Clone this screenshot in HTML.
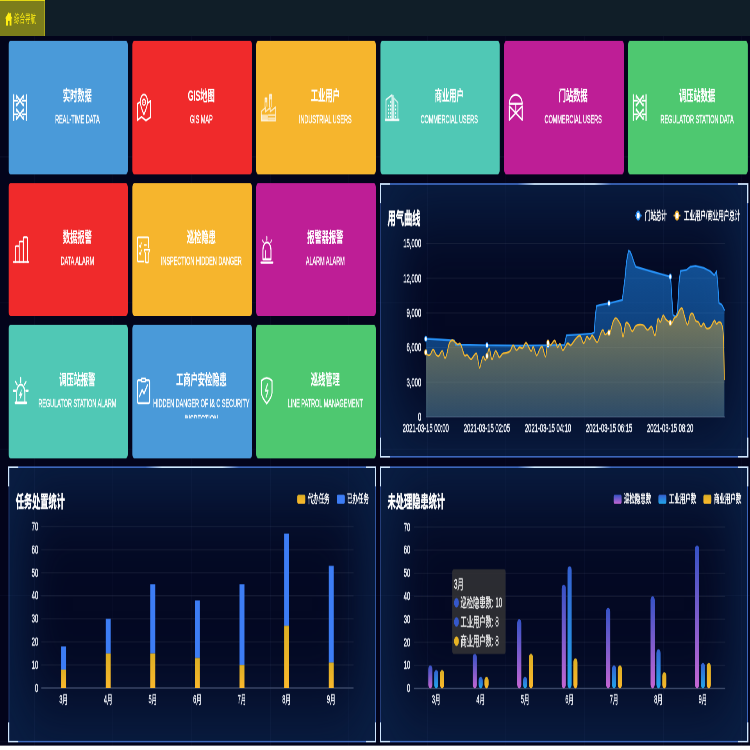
<!DOCTYPE html>
<html lang="zh-CN"><head><meta charset="utf-8"><title>综合导航</title>
<style>
html,body{margin:0;padding:0;background:#fff;}
body{width:750px;height:750px;overflow:hidden;position:relative;font-family:"Liberation Sans","Noto Sans CJK SC",sans-serif;}
#root{will-change:transform;position:absolute;left:0;top:0;width:1920px;height:937.5px;transform:scale(0.390625,0.8);transform-origin:0 0;background:#fff;overflow:hidden;}
#page{position:absolute;left:0;top:0;width:1920px;height:931.8px;background:#03041b;overflow:hidden;}
#bar{position:absolute;left:0;top:0;width:1920px;height:45px;background:#101e28;}
#tab{position:absolute;left:0;top:0;width:114px;height:43.7px;background:#7c7d1b;border-top:1.3px solid #f3e614;border-right:1.6px solid #e6da18;color:#ffee12;font-size:14px;}
#tab svg{position:absolute;left:13px;top:14px;}
#tab span{position:absolute;left:36px;top:0;line-height:44px;white-space:nowrap;}
.tile{position:absolute;width:305.6px;height:166.25px;border-radius:5px;overflow:hidden;color:#fff;}
.ico{position:absolute;left:11.5px;top:calc(50% + 1.2px);}
.t1{-webkit-text-stroke:.15px #fff;position:absolute;left:47px;right:0;top:55.7px;height:26px;line-height:26px;font-size:18.5px;font-weight:bold;text-align:center;white-space:nowrap;}
.t2{-webkit-text-stroke:.45px #fff;position:absolute;left:47px;right:0;top:87.4px;height:29.4px;line-height:20px;font-size:14px;text-align:center;overflow:hidden;letter-spacing:0;}
.panel{position:absolute;box-sizing:border-box;border:2px solid #3c66bb;border-left-width:2.6px;border-right-width:2.6px;background:#040923;box-shadow:inset 0 0 100px 42px rgb(10,31,68);}
.panel i{position:absolute;width:23px;height:23px;border:0 solid #cfe6ff;}
.panel .tl{left:-2.6px;top:-2px;border-left-width:3.2px;border-top-width:2.4px;}
.panel .tr{right:-2.6px;top:-2px;border-right-width:3.2px;border-top-width:2.4px;}
.panel .bl{left:-2.6px;bottom:-2px;border-left-width:3.2px;border-bottom-width:2.4px;}
.panel .br{right:-2.6px;bottom:-2px;border-right-width:3.2px;border-bottom-width:2.4px;}
.panel .tc{left:50%;top:-2px;margin-left:-120px;width:240px;height:2.4px;border:0;background:linear-gradient(90deg,rgba(190,225,255,0),#cfe8ff 18%,#cfe8ff 82%,rgba(190,225,255,0));}
#grid i{position:absolute;background:rgba(130,160,230,.045);}
#charts{position:absolute;left:0;top:0;font-family:"Liberation Sans","Noto Sans CJK SC",sans-serif;}
</style></head>
<body>
<div id="root"><div id="page">
<div class="panel" style="left:973.82px;top:228.75px;width:941.6px;height:343.5px"><i class="tl"></i><i class="tr"></i><i class="bl"></i><i class="br"></i><i class="tc"></i></div>
<div class="panel" style="left:21.5px;top:582.75px;width:941.1px;height:345.6px"><i class="tl"></i><i class="tr"></i><i class="bl"></i><i class="br"></i><i class="tc"></i></div>
<div class="panel" style="left:973.82px;top:582.75px;width:941.6px;height:345.6px"><i class="tl"></i><i class="tr"></i><i class="bl"></i><i class="br"></i><i class="tc"></i></div>
<div id="grid"><i style="left:87.0px;top:0;width:2px;height:932px"></i><i style="left:288.3px;top:0;width:2px;height:932px"></i><i style="left:489.5px;top:0;width:2px;height:932px"></i><i style="left:690.7px;top:0;width:2px;height:932px"></i><i style="left:891.9px;top:0;width:2px;height:932px"></i><i style="left:1093.1px;top:0;width:2px;height:932px"></i><i style="left:1294.3px;top:0;width:2px;height:932px"></i><i style="left:1495.5px;top:0;width:2px;height:932px"></i><i style="left:1696.8px;top:0;width:2px;height:932px"></i><i style="left:1898.0px;top:0;width:2px;height:932px"></i><i style="left:0;top:12.5px;width:1920px;height:1.4px"></i><i style="left:0;top:195.2px;width:1920px;height:1.4px"></i><i style="left:0;top:378.0px;width:1920px;height:1.4px"></i><i style="left:0;top:560.8px;width:1920px;height:1.4px"></i><i style="left:0;top:743.5px;width:1920px;height:1.4px"></i><i style="left:0;top:926.2px;width:1920px;height:1.4px"></i></div>
<div id="bar"><div id="tab"><svg width="19" height="17" viewBox="0 0 19 17"><path d="M9.5 0L0 8.2H2.6V17H7.4V11H11.6V17H16.4V8.2H19L15.4 5V1.2H13V3Z" fill="#ffee12"/></svg><span>综合导航</span></div></div>
<div class="tile" style="left:21.8px;top:51.25px;background:#4a9ad9"><div class="t1">实时数据</div><div class="t2">REAL-TIME DATA</div></div>
<div class="tile" style="left:339.1px;top:51.25px;background:#f02a2b"><div class="t1">GIS地图</div><div class="t2">GIS MAP</div></div>
<div class="tile" style="left:656.4px;top:51.25px;background:#f6b52d"><div class="t1">工业用户</div><div class="t2">INDUSTRIAL USERS</div></div>
<div class="tile" style="left:973.7px;top:51.25px;background:#50c8b5"><div class="t1">商业用户</div><div class="t2">COMMERCIAL USERS</div></div>
<div class="tile" style="left:1291.0px;top:51.25px;background:#be1e96"><div class="t1">门站数据</div><div class="t2">COMMERCIAL USERS</div></div>
<div class="tile" style="left:1608.3px;top:51.25px;background:#4ec870"><div class="t1">调压站数据</div><div class="t2">REGULATOR STATION DATA</div></div>
<div class="tile" style="left:21.8px;top:228.75px;background:#f02a2b"><div class="t1">数据报警</div><div class="t2">DATA ALARM</div></div>
<div class="tile" style="left:339.1px;top:228.75px;background:#f6b52d"><div class="t1">巡检隐患</div><div class="t2">INSPECTION HIDDEN DANGER</div></div>
<div class="tile" style="left:656.4px;top:228.75px;background:#be1e96"><div class="t1">报警器报警</div><div class="t2">ALARM ALARM</div></div>
<div class="tile" style="left:21.8px;top:406.25px;background:#50c8b5"><div class="t1">调压站报警</div><div class="t2">REGULATOR STATION ALARM</div></div>
<div class="tile" style="left:339.1px;top:406.25px;background:#4a9ad9"><div class="t1">工商户安检隐患</div><div class="t2">HIDDEN DANGER OF I&amp; C SECURITY INSPECTION</div></div>
<div class="tile" style="left:656.4px;top:406.25px;background:#4ec870"><div class="t1">巡线管理</div><div class="t2">LINE PATROL MANAGEMENT</div></div>
<svg id="charts" width="1920" height="932" viewBox="0 0 1920 932">
<defs>
<linearGradient id="gBlue" x1="0" y1="0" x2="0" y2="1"><stop offset="0" stop-color="#1e8cf5" stop-opacity=".54"/><stop offset="1" stop-color="#1e8cf5" stop-opacity=".33"/></linearGradient>
<linearGradient id="gOrange" x1="0" y1="0" x2="0" y2="1"><stop offset="0" stop-color="#f5b92d" stop-opacity=".46"/><stop offset="1" stop-color="#f5b92d" stop-opacity=".14"/></linearGradient>
<linearGradient id="gYel" x1="0" y1="0" x2="0" y2="1"><stop offset="0" stop-color="#dcae24"/><stop offset="1" stop-color="#fbb92c"/></linearGradient>
<linearGradient id="gPur" x1="0" y1="0" x2="0" y2="1"><stop offset="0" stop-color="#3552c6"/><stop offset="1" stop-color="#c466d2"/></linearGradient>
<linearGradient id="gCy" x1="0" y1="0" x2="0" y2="1"><stop offset="0" stop-color="#3560d0"/><stop offset="1" stop-color="#22a6ea"/></linearGradient>
</defs>
<g transform="translate(33.30,117.50) scale(0.9926)"><g fill="none" stroke="#fff" stroke-linecap="butt" stroke-linejoin="round"><path d="M1.6 0.2V33.8M34.4 0.2V33.8" stroke-width="3"/><path d="M8.5 1.8L27.5 15M27.5 1.8L8.5 15M8.5 19L27.5 32.2M27.5 19L8.5 32.2" stroke-width="2.8"/><path d="M1.6 8.4H13M23 8.4H34.4M1.6 25.6H13M23 25.6H34.4" stroke-width="2.2"/><path d="M8.8 1.2V6.5M27.2 1.2V6.5M8.8 27.5V32.8M27.2 27.5V32.8M8.8 11.5V15.5M27.2 11.5V15.5M8.8 18.5V22.5M27.2 18.5V22.5" stroke-width="2" opacity=".85"/></g></g>
<g transform="translate(350.60,117.50) scale(0.9926)"><g fill="none" stroke="#fff" stroke-width="2.4" stroke-linecap="round" stroke-linejoin="round"><path d="M7 10.5L1.2 12.5V33L11.6 28.8L23.2 33.4L35 29.4V8.8L29 11"/><path d="M18 26C11.5 18 8.6 14 8.6 10A9.4 9.4 0 0 1 27.4 10C27.4 14 24.5 18 18 26Z"/><ellipse cx="18" cy="10.4" rx="4.4" ry="3.6" stroke-width="2"/></g><ellipse cx="18" cy="10.4" rx="1.4" ry="1.2" fill="#fff"/></g>
<g transform="translate(667.90,117.50) scale(0.9926)"><g fill="none" stroke="#fff" stroke-width="2" opacity=".72" stroke-linejoin="round"><path d="M1 22L12 17V22.3L24 17.4V22.3L37.8 16.6V33.4H1Z"/><path d="M10.6 17V5.4H15.6V16"/><path d="M22.2 17V1H28V16.6"/></g><g fill="#fff" opacity=".62"><rect x="10.6" y="4.6" width="5" height="6"/><rect x="22.2" y="0.4" width="5.8" height="6.5"/><rect x="1" y="26" width="17" height="7.4"/><rect x="19" y="25.4" width="18" height="2.4"/><rect x="19" y="29.4" width="18" height="3"/></g></g>
<g transform="translate(985.20,117.50) scale(0.9926)"><g fill="none" stroke="#fff" stroke-width="2.2" stroke-linejoin="round" opacity=".9"><path d="M3 32V7.4L18.4 1.2V32"/><path d="M23.4 32V5.2L33.6 10.8V32" opacity=".75"/></g><rect x="18.4" y="1.4" width="5" height="31" fill="#fff" opacity=".55"/><path d="M0 32.6H37.4" stroke="#fff" stroke-width="2.8" opacity=".95"/><g fill="#fff" opacity=".95"><rect x="8" y="13.5" width="3" height="2.5"/><rect x="8" y="18.2" width="3" height="2.5"/><rect x="8" y="22.9" width="3" height="2.5"/><rect x="8" y="27.5" width="3" height="2.5"/><rect x="13.4" y="13.5" width="3" height="2.5"/><rect x="13.4" y="18.2" width="3" height="2.5"/><rect x="13.4" y="22.9" width="3" height="2.5"/><rect x="13.4" y="27.5" width="3" height="2.5"/><rect x="13.4" y="8.8" width="3" height="2.5"/><rect x="26.2" y="13.5" width="3" height="2.5"/><rect x="26.2" y="18.2" width="3" height="2.5"/><rect x="26.2" y="22.9" width="3" height="2.5"/><rect x="26.2" y="27.5" width="3" height="2.5"/></g></g>
<g transform="translate(1302.50,117.50) scale(0.9926)"><g fill="none" stroke="#fff" stroke-width="2.4" stroke-linecap="round" stroke-linejoin="round"><path d="M1.4 12.4A16.6 11.4 0 0 1 34.6 12.4Z" stroke-width="2.6"/><path d="M18 12.4V23.6" stroke-width="2.2"/><path d="M1.4 15.4V32.6M34.6 15.4V32.6" stroke-width="2.6"/><path d="M1.4 15.4L34.6 32.6M34.6 15.4L1.4 32.6" stroke-width="2.4"/></g></g>
<g transform="translate(1619.80,117.50) scale(0.9926)"><g fill="none" stroke="#fff" stroke-linecap="butt" stroke-linejoin="round"><path d="M1.6 0.2V33.8M34.4 0.2V33.8" stroke-width="3"/><path d="M8.5 1.8L27.5 15M27.5 1.8L8.5 15M8.5 19L27.5 32.2M27.5 19L8.5 32.2" stroke-width="2.8"/><path d="M1.6 8.4H13M23 8.4H34.4M1.6 25.6H13M23 25.6H34.4" stroke-width="2.2"/><path d="M8.8 1.2V6.5M27.2 1.2V6.5M8.8 27.5V32.8M27.2 27.5V32.8M8.8 11.5V15.5M27.2 11.5V15.5M8.8 18.5V22.5M27.2 18.5V22.5" stroke-width="2" opacity=".85"/></g></g>
<g transform="translate(33.30,295.70) scale(0.9643)"><g fill="none" stroke="#fff" stroke-width="2.4" stroke-linecap="round" stroke-linejoin="round" stroke-width="2.4"><path d="M6.4 33V14.4Q6.4 12.4 8.4 12.4H14.4Q16.4 12.4 16.4 14.4V33"/><path d="M16.4 33V8.4Q16.4 6.4 18.4 6.4H25.4Q27.4 6.4 27.4 8.4V33"/><path d="M27.4 33V2.6Q27.4 0.8 29.4 0.8H36.2Q38.2 0.8 38.2 2.6V33"/><path d="M1.4 33H41.6" stroke-width="2.8"/></g></g>
<g transform="translate(350.60,295.70) scale(0.9926)"><g fill="none" stroke="#fff" stroke-width="2.4" stroke-linecap="round" stroke-linejoin="round" stroke-width="2.4"><path d="M17.6 31.4H3Q1.4 31.4 1.4 29.8V2.2Q1.4 0.9 3 0.9H28.4Q29.8 0.9 29.8 2.2V13.4"/><path d="M6 11.4L8.4 13.6L11.4 8.2" stroke-width="2"/><path d="M6 20.6L8.4 22.8L11.4 17.4" stroke-width="2"/><path d="M18.6 10.6H24.2" stroke-width="2.2"/><path d="M18.6 16.6H33L29.2 22.4V32.6H22.6V22.4Z" stroke-width="2.2"/></g></g>
<g transform="translate(667.90,295.70) scale(0.9926)"><g fill="none" stroke="#fff" stroke-width="2.4" stroke-linecap="round" stroke-linejoin="round"><path d="M5.2 28.6V17A10.4 9.6 0 0 1 26 17V28.6Z" stroke-width="2.6"/><path d="M11.8 27.6V17.6" stroke-width="1.6"/><path d="M0.4 32.8H30.6" stroke-width="2.8"/><path d="M15.2 0.6V4" stroke-width="3" opacity=".8"/><path d="M3.6 4.6L7.4 7.4M27.8 4.6L25.2 7.4" stroke-width="2.2" opacity=".8"/></g></g>
<g transform="translate(33.30,471.70) scale(0.9926)"><g fill="none" stroke="#fff" stroke-width="2.4" stroke-linecap="round" stroke-linejoin="round"><path d="M9.4 31V19.6A10.6 10.4 0 0 1 30.6 19.6V31" stroke-width="2.6"/><path d="M6 32H34.6" stroke-width="3.4"/><path d="M19.9 0.6V6.2" stroke-width="2.6"/><path d="M6.4 5.4L10.6 9.2M33.6 5.4L29.4 9.2" stroke-width="2.4"/><path d="M1.2 17H6.4M33.6 17H38.8" stroke-width="3"/></g><path d="M22 15.6L15.8 22.8H19.6L17.4 28L24.2 20.4H20.2Z" fill="#fff" stroke="#fff" stroke-width=".8"/></g>
<g transform="translate(350.60,471.70) scale(1.0227)"><g fill="none" stroke="#fff" stroke-width="2.4" stroke-linecap="round" stroke-linejoin="round" stroke-width="2.4"><path d="M11.4 3.4H4Q1.3 3.4 1.3 6V29Q1.3 31.6 4 31.6H29Q31.7 31.6 31.7 29V6Q31.7 3.4 29 3.4H21"/><path d="M11.4 5.2V1.4H21V5.2Z" stroke-width="2"/><path d="M6.6 23L13 15.2L17.8 19.8L26.2 9.6" stroke-width="2.6"/></g></g>
<g transform="translate(667.90,471.70) scale(0.9926)"><g fill="none" stroke="#fff" stroke-width="2.4" stroke-linecap="round" stroke-linejoin="round"><path d="M1.3 4.2Q15 -2.6 28.7 4.2V19.6Q28 25 15 33Q2 25 1.3 19.6Z" stroke-width="2.6"/></g><path d="M16.8 8.8L11.6 16.8H18.4L13.6 24.6" fill="none" stroke="#fff" stroke-width="2.6" stroke-linejoin="round" stroke-linecap="round" opacity=".9"/></g>
<text x="992.3" y="279.8" font-size="21" text-anchor="start" fill="#fff" stroke="#fff" stroke-width="0.55" font-weight="bold" >用气曲线</text>
<path d="M1625.0 269.5H1642.6" stroke="#2a8cf0" stroke-width="2"/>
<circle cx="1633.8" cy="269.5" r="5" fill="#fff" stroke="#2a8cf0" stroke-width="2.4"/>
<text x="1651.2" y="274.5" font-size="14" text-anchor="start" fill="#fff" stroke="#fff" stroke-width="0.55" font-weight="normal" >门站总计</text>
<path d="M1724.3 269.5H1741.9" stroke="#f0b030" stroke-width="2"/>
<circle cx="1733.1" cy="269.5" r="5" fill="#fff" stroke="#f0b030" stroke-width="2.4"/>
<text x="1751.0" y="274.5" font-size="14" text-anchor="start" fill="#fff" stroke="#fff" stroke-width="0.55" font-weight="normal" >工业用户/商业用户总计</text>
<path d="M1090.0 521.1H1856.0" stroke="#3f4c6c" stroke-width="1.4"/>
<text x="1078.3" y="525.9" font-size="15" text-anchor="end" fill="#eef1f8" stroke="#eef1f8" stroke-width="0.55" font-weight="normal" >0</text>
<path d="M1090.0 477.8H1856.0" stroke="rgba(255,255,255,0.075)" stroke-width="1.2"/>
<text x="1078.3" y="482.6" font-size="15" text-anchor="end" fill="#eef1f8" stroke="#eef1f8" stroke-width="0.55" font-weight="normal" >3,000</text>
<path d="M1090.0 434.5H1856.0" stroke="rgba(255,255,255,0.075)" stroke-width="1.2"/>
<text x="1078.3" y="439.3" font-size="15" text-anchor="end" fill="#eef1f8" stroke="#eef1f8" stroke-width="0.55" font-weight="normal" >6,000</text>
<path d="M1090.0 391.1H1856.0" stroke="rgba(255,255,255,0.075)" stroke-width="1.2"/>
<text x="1078.3" y="395.9" font-size="15" text-anchor="end" fill="#eef1f8" stroke="#eef1f8" stroke-width="0.55" font-weight="normal" >9,000</text>
<path d="M1090.0 347.8H1856.0" stroke="rgba(255,255,255,0.075)" stroke-width="1.2"/>
<text x="1078.3" y="352.6" font-size="15" text-anchor="end" fill="#eef1f8" stroke="#eef1f8" stroke-width="0.55" font-weight="normal" >12,000</text>
<path d="M1090.0 304.5H1856.0" stroke="rgba(255,255,255,0.075)" stroke-width="1.2"/>
<text x="1078.3" y="309.3" font-size="15" text-anchor="end" fill="#eef1f8" stroke="#eef1f8" stroke-width="0.55" font-weight="normal" >15,000</text>
<text x="1090.0" y="540.2" font-size="15" text-anchor="middle" fill="#eef1f8" stroke="#eef1f8" stroke-width="0.55" font-weight="normal" >2021-03-15 00:00</text>
<text x="1246.5" y="540.2" font-size="15" text-anchor="middle" fill="#eef1f8" stroke="#eef1f8" stroke-width="0.55" font-weight="normal" >2021-03-15 02:05</text>
<text x="1402.9" y="540.2" font-size="15" text-anchor="middle" fill="#eef1f8" stroke="#eef1f8" stroke-width="0.55" font-weight="normal" >2021-03-15 04:10</text>
<text x="1559.3" y="540.2" font-size="15" text-anchor="middle" fill="#eef1f8" stroke="#eef1f8" stroke-width="0.55" font-weight="normal" >2021-03-15 06:15</text>
<text x="1715.7" y="540.2" font-size="15" text-anchor="middle" fill="#eef1f8" stroke="#eef1f8" stroke-width="0.55" font-weight="normal" >2021-03-15 08:20</text>
<path d="M1090.0 423.5L1126.4 424.5L1163.0 425.6L1166.3 431.0L1203.2 431.2L1246.7 431.6L1331.2 432.0L1402.9 431.6L1445.4 431.2L1447.7 425.0L1450.2 419.1L1484.8 418.1L1514.8 416.9L1521.2 415.6L1523.7 397.5L1527.0 382.5L1536.0 381.2L1559.0 379.1L1593.1 375.0L1596.2 362.5L1600.0 347.5L1603.8 327.5L1609.0 313.5L1612.8 314.4L1617.2 319.1L1621.8 326.2L1627.4 333.5L1664.0 338.8L1716.0 345.9L1717.8 353.8L1720.3 375.0L1722.9 393.8L1729.8 395.9L1734.4 390.0L1736.5 370.0L1738.2 353.8L1742.1 338.8L1748.5 338.1L1756.9 337.5L1767.2 333.5L1781.0 332.5L1801.5 334.9L1818.4 339.1L1828.6 344.1L1834.2 339.1L1837.3 353.8L1840.6 378.8L1847.8 380.9L1854.5 387.5L1854.5 521.1L1090.0 521.1Z" fill="url(#gBlue)"/>
<path d="M1090.0 440.3C1091.0 441.0 1093.1 443.3 1095.2 443.8C1097.3 444.3 1099.3 444.2 1101.7 443.0C1104.2 441.8 1106.1 436.7 1108.8 436.9C1111.6 437.0 1114.4 442.4 1117.0 443.8C1119.7 445.2 1120.8 445.8 1123.6 444.9C1126.3 443.9 1129.6 438.0 1132.3 438.5C1135.1 438.9 1136.7 447.0 1138.9 447.5C1141.0 448.1 1142.4 444.9 1144.3 441.7C1146.3 438.5 1147.3 432.6 1149.8 429.7C1152.2 426.7 1155.0 425.4 1158.0 425.1C1160.9 424.9 1163.7 427.4 1166.2 428.3C1168.6 429.3 1169.5 430.2 1171.6 430.5C1173.8 430.7 1176.0 428.6 1178.2 429.7C1180.3 430.7 1181.7 433.7 1183.6 436.3C1185.6 439.0 1186.8 443.0 1189.1 444.3C1191.4 445.7 1193.2 442.9 1196.2 443.8C1199.2 444.7 1202.5 448.9 1205.5 449.1C1208.4 449.3 1210.0 446.2 1212.6 444.9C1215.1 443.5 1217.7 440.8 1219.7 441.7C1221.7 442.5 1222.0 446.4 1223.5 449.7C1225.0 452.9 1226.2 459.6 1227.9 459.8C1229.6 460.0 1231.1 453.5 1232.8 451.0C1234.5 448.5 1235.4 445.8 1237.2 445.7C1238.9 445.5 1240.9 450.3 1242.6 450.2C1244.4 450.1 1245.2 447.5 1247.0 444.9C1248.8 442.3 1250.3 435.0 1252.5 435.8C1254.6 436.6 1256.8 447.8 1259.0 449.1C1261.2 450.4 1262.5 444.9 1264.5 443.0C1266.4 441.1 1267.5 437.8 1269.9 438.5C1272.4 439.1 1275.2 445.8 1278.1 446.5C1281.1 447.1 1283.4 443.2 1286.3 442.2C1289.3 441.2 1291.1 441.7 1294.5 441.1C1298.0 440.6 1302.0 440.7 1305.4 439.0C1308.9 437.3 1310.7 431.8 1313.6 431.5C1316.6 431.3 1318.9 437.2 1321.8 437.7C1324.8 438.2 1327.1 434.7 1330.0 434.2C1333.0 433.7 1335.3 436.1 1338.2 435.0C1341.1 433.9 1343.4 428.3 1346.4 428.3C1349.3 428.3 1352.1 433.1 1354.6 435.0C1357.0 436.9 1358.1 439.2 1360.0 439.0C1362.0 438.8 1363.0 432.7 1365.5 433.7C1368.0 434.6 1370.7 443.9 1373.7 444.3C1376.7 444.8 1379.2 438.2 1381.9 436.3C1384.5 434.4 1385.8 432.0 1388.4 433.7C1391.1 435.4 1394.2 446.6 1396.6 445.7C1399.1 444.7 1399.8 430.9 1402.1 428.3C1404.4 425.8 1405.9 432.0 1409.2 431.5C1412.4 431.1 1416.9 425.2 1420.1 425.7C1423.4 426.2 1424.8 433.5 1427.2 434.2C1429.7 434.9 1431.4 429.0 1433.8 429.7C1436.1 430.3 1438.0 436.9 1440.3 437.7C1442.6 438.5 1444.1 435.7 1446.4 434.2C1448.7 432.6 1450.5 429.7 1453.2 429.2C1455.9 428.7 1458.3 432.1 1461.4 431.5C1464.5 430.9 1467.1 427.8 1470.3 425.8C1473.5 423.9 1476.3 421.8 1479.2 420.8C1482.0 419.8 1483.3 418.7 1486.0 420.2C1488.7 421.7 1491.2 429.1 1494.2 429.2C1497.1 429.3 1499.7 421.7 1502.4 420.8C1505.1 419.9 1506.8 424.5 1509.2 424.2C1511.7 423.9 1513.6 419.2 1516.0 419.2C1518.5 419.2 1520.4 422.7 1522.9 424.2C1525.3 425.7 1526.9 429.0 1529.7 427.5C1532.5 426.0 1536.0 418.5 1538.6 415.8C1541.1 413.1 1542.2 412.1 1544.0 412.5C1545.9 412.9 1546.7 417.6 1548.8 418.2C1550.9 418.8 1553.2 416.6 1555.6 415.8C1558.1 415.1 1560.0 416.6 1562.5 414.2C1564.9 411.8 1566.8 405.5 1569.3 402.5C1571.7 399.5 1573.7 397.8 1576.1 397.5C1578.6 397.2 1580.5 399.0 1582.9 400.8C1585.4 402.6 1587.5 403.9 1589.8 407.5C1592.0 411.1 1593.0 421.4 1595.2 420.8C1597.4 420.2 1599.3 406.9 1602.0 404.2C1604.8 401.5 1607.3 404.0 1610.2 405.8C1613.2 407.6 1615.4 413.9 1618.4 414.2C1621.5 414.5 1623.9 409.0 1627.3 407.5C1630.8 406.0 1633.9 406.0 1637.5 405.8C1641.2 405.7 1644.1 405.6 1647.8 406.8C1651.5 408.0 1654.3 412.3 1658.0 412.5C1661.7 412.7 1664.8 407.0 1668.3 408.2C1671.7 409.4 1674.3 420.8 1677.1 419.2C1680.0 417.6 1681.5 402.2 1684.0 399.2C1686.4 396.2 1688.3 403.4 1690.8 402.5C1693.2 401.6 1695.2 394.8 1697.6 394.2C1700.1 393.6 1701.7 397.7 1704.5 399.2C1707.2 400.7 1709.9 401.6 1712.6 402.5C1715.3 403.4 1717.0 405.1 1719.5 404.2C1721.9 403.3 1723.8 399.2 1726.3 397.5C1728.7 395.8 1730.7 396.6 1733.1 394.8C1735.6 393.0 1737.5 389.1 1740.0 387.5C1742.4 385.9 1744.3 384.0 1746.8 385.8C1749.2 387.6 1751.1 393.9 1753.6 397.5C1756.1 401.1 1758.0 406.6 1760.4 405.8C1762.9 405.1 1764.8 395.9 1767.2 393.5C1769.7 391.1 1771.6 391.2 1774.1 392.5C1776.5 393.8 1778.5 399.0 1780.9 400.8C1783.4 402.6 1785.3 401.2 1787.7 402.5C1790.2 403.8 1792.1 407.9 1794.6 408.2C1797.0 408.5 1798.9 403.8 1801.4 404.2C1803.8 404.5 1805.1 409.3 1808.2 410.2C1811.3 411.1 1814.8 410.9 1818.5 409.2C1822.1 407.5 1825.9 401.6 1828.7 400.8C1831.5 400.0 1831.9 404.5 1834.2 404.8C1836.4 405.1 1838.5 402.3 1841.0 402.5C1843.4 402.7 1845.8 402.5 1847.8 405.8C1849.8 409.1 1850.7 408.5 1851.9 420.8C1853.1 433.1 1853.9 464.6 1854.3 474.2L1854.3 521.1L1090.0 521.1Z" fill="url(#gOrange)"/>
<path d="M1090.0 423.5L1126.4 424.5L1163.0 425.6L1166.3 431.0L1203.2 431.2L1246.7 431.6L1331.2 432.0L1402.9 431.6L1445.4 431.2L1447.7 425.0L1450.2 419.1L1484.8 418.1L1514.8 416.9L1521.2 415.6L1523.7 397.5L1527.0 382.5L1536.0 381.2L1559.0 379.1L1593.1 375.0L1596.2 362.5L1600.0 347.5L1603.8 327.5L1609.0 313.5L1612.8 314.4L1617.2 319.1L1621.8 326.2L1627.4 333.5L1664.0 338.8L1716.0 345.9L1717.8 353.8L1720.3 375.0L1722.9 393.8L1729.8 395.9L1734.4 390.0L1736.5 370.0L1738.2 353.8L1742.1 338.8L1748.5 338.1L1756.9 337.5L1767.2 333.5L1781.0 332.5L1801.5 334.9L1818.4 339.1L1828.6 344.1L1834.2 339.1L1837.3 353.8L1840.6 378.8L1847.8 380.9L1854.5 387.5" fill="none" stroke="#2690f5" stroke-width="2.4" stroke-linejoin="round" stroke-linecap="round"/>
<path d="M1090.0 440.3C1091.0 441.0 1093.1 443.3 1095.2 443.8C1097.3 444.3 1099.3 444.2 1101.7 443.0C1104.2 441.8 1106.1 436.7 1108.8 436.9C1111.6 437.0 1114.4 442.4 1117.0 443.8C1119.7 445.2 1120.8 445.8 1123.6 444.9C1126.3 443.9 1129.6 438.0 1132.3 438.5C1135.1 438.9 1136.7 447.0 1138.9 447.5C1141.0 448.1 1142.4 444.9 1144.3 441.7C1146.3 438.5 1147.3 432.6 1149.8 429.7C1152.2 426.7 1155.0 425.4 1158.0 425.1C1160.9 424.9 1163.7 427.4 1166.2 428.3C1168.6 429.3 1169.5 430.2 1171.6 430.5C1173.8 430.7 1176.0 428.6 1178.2 429.7C1180.3 430.7 1181.7 433.7 1183.6 436.3C1185.6 439.0 1186.8 443.0 1189.1 444.3C1191.4 445.7 1193.2 442.9 1196.2 443.8C1199.2 444.7 1202.5 448.9 1205.5 449.1C1208.4 449.3 1210.0 446.2 1212.6 444.9C1215.1 443.5 1217.7 440.8 1219.7 441.7C1221.7 442.5 1222.0 446.4 1223.5 449.7C1225.0 452.9 1226.2 459.6 1227.9 459.8C1229.6 460.0 1231.1 453.5 1232.8 451.0C1234.5 448.5 1235.4 445.8 1237.2 445.7C1238.9 445.5 1240.9 450.3 1242.6 450.2C1244.4 450.1 1245.2 447.5 1247.0 444.9C1248.8 442.3 1250.3 435.0 1252.5 435.8C1254.6 436.6 1256.8 447.8 1259.0 449.1C1261.2 450.4 1262.5 444.9 1264.5 443.0C1266.4 441.1 1267.5 437.8 1269.9 438.5C1272.4 439.1 1275.2 445.8 1278.1 446.5C1281.1 447.1 1283.4 443.2 1286.3 442.2C1289.3 441.2 1291.1 441.7 1294.5 441.1C1298.0 440.6 1302.0 440.7 1305.4 439.0C1308.9 437.3 1310.7 431.8 1313.6 431.5C1316.6 431.3 1318.9 437.2 1321.8 437.7C1324.8 438.2 1327.1 434.7 1330.0 434.2C1333.0 433.7 1335.3 436.1 1338.2 435.0C1341.1 433.9 1343.4 428.3 1346.4 428.3C1349.3 428.3 1352.1 433.1 1354.6 435.0C1357.0 436.9 1358.1 439.2 1360.0 439.0C1362.0 438.8 1363.0 432.7 1365.5 433.7C1368.0 434.6 1370.7 443.9 1373.7 444.3C1376.7 444.8 1379.2 438.2 1381.9 436.3C1384.5 434.4 1385.8 432.0 1388.4 433.7C1391.1 435.4 1394.2 446.6 1396.6 445.7C1399.1 444.7 1399.8 430.9 1402.1 428.3C1404.4 425.8 1405.9 432.0 1409.2 431.5C1412.4 431.1 1416.9 425.2 1420.1 425.7C1423.4 426.2 1424.8 433.5 1427.2 434.2C1429.7 434.9 1431.4 429.0 1433.8 429.7C1436.1 430.3 1438.0 436.9 1440.3 437.7C1442.6 438.5 1444.1 435.7 1446.4 434.2C1448.7 432.6 1450.5 429.7 1453.2 429.2C1455.9 428.7 1458.3 432.1 1461.4 431.5C1464.5 430.9 1467.1 427.8 1470.3 425.8C1473.5 423.9 1476.3 421.8 1479.2 420.8C1482.0 419.8 1483.3 418.7 1486.0 420.2C1488.7 421.7 1491.2 429.1 1494.2 429.2C1497.1 429.3 1499.7 421.7 1502.4 420.8C1505.1 419.9 1506.8 424.5 1509.2 424.2C1511.7 423.9 1513.6 419.2 1516.0 419.2C1518.5 419.2 1520.4 422.7 1522.9 424.2C1525.3 425.7 1526.9 429.0 1529.7 427.5C1532.5 426.0 1536.0 418.5 1538.6 415.8C1541.1 413.1 1542.2 412.1 1544.0 412.5C1545.9 412.9 1546.7 417.6 1548.8 418.2C1550.9 418.8 1553.2 416.6 1555.6 415.8C1558.1 415.1 1560.0 416.6 1562.5 414.2C1564.9 411.8 1566.8 405.5 1569.3 402.5C1571.7 399.5 1573.7 397.8 1576.1 397.5C1578.6 397.2 1580.5 399.0 1582.9 400.8C1585.4 402.6 1587.5 403.9 1589.8 407.5C1592.0 411.1 1593.0 421.4 1595.2 420.8C1597.4 420.2 1599.3 406.9 1602.0 404.2C1604.8 401.5 1607.3 404.0 1610.2 405.8C1613.2 407.6 1615.4 413.9 1618.4 414.2C1621.5 414.5 1623.9 409.0 1627.3 407.5C1630.8 406.0 1633.9 406.0 1637.5 405.8C1641.2 405.7 1644.1 405.6 1647.8 406.8C1651.5 408.0 1654.3 412.3 1658.0 412.5C1661.7 412.7 1664.8 407.0 1668.3 408.2C1671.7 409.4 1674.3 420.8 1677.1 419.2C1680.0 417.6 1681.5 402.2 1684.0 399.2C1686.4 396.2 1688.3 403.4 1690.8 402.5C1693.2 401.6 1695.2 394.8 1697.6 394.2C1700.1 393.6 1701.7 397.7 1704.5 399.2C1707.2 400.7 1709.9 401.6 1712.6 402.5C1715.3 403.4 1717.0 405.1 1719.5 404.2C1721.9 403.3 1723.8 399.2 1726.3 397.5C1728.7 395.8 1730.7 396.6 1733.1 394.8C1735.6 393.0 1737.5 389.1 1740.0 387.5C1742.4 385.9 1744.3 384.0 1746.8 385.8C1749.2 387.6 1751.1 393.9 1753.6 397.5C1756.1 401.1 1758.0 406.6 1760.4 405.8C1762.9 405.1 1764.8 395.9 1767.2 393.5C1769.7 391.1 1771.6 391.2 1774.1 392.5C1776.5 393.8 1778.5 399.0 1780.9 400.8C1783.4 402.6 1785.3 401.2 1787.7 402.5C1790.2 403.8 1792.1 407.9 1794.6 408.2C1797.0 408.5 1798.9 403.8 1801.4 404.2C1803.8 404.5 1805.1 409.3 1808.2 410.2C1811.3 411.1 1814.8 410.9 1818.5 409.2C1822.1 407.5 1825.9 401.6 1828.7 400.8C1831.5 400.0 1831.9 404.5 1834.2 404.8C1836.4 405.1 1838.5 402.3 1841.0 402.5C1843.4 402.7 1845.8 402.5 1847.8 405.8C1849.8 409.1 1850.7 408.5 1851.9 420.8C1853.1 433.1 1853.9 464.6 1854.3 474.2" fill="none" stroke="#f2b630" stroke-width="2.2" stroke-linejoin="round" stroke-linecap="round"/>
<circle cx="1090.0" cy="423.5" r="3.2" fill="#fff" stroke="#2690f5" stroke-width="1.2"/>
<circle cx="1246.7" cy="431.6" r="3.2" fill="#fff" stroke="#2690f5" stroke-width="1.2"/>
<circle cx="1402.9" cy="431.6" r="3.2" fill="#fff" stroke="#2690f5" stroke-width="1.2"/>
<circle cx="1559.0" cy="379.1" r="3.2" fill="#fff" stroke="#2690f5" stroke-width="1.2"/>
<circle cx="1716.0" cy="345.9" r="3.2" fill="#fff" stroke="#2690f5" stroke-width="1.2"/>
<circle cx="1090.0" cy="440.4" r="3.2" fill="#fff" stroke="#f2b630" stroke-width="1.2"/>
<circle cx="1246.7" cy="444.9" r="3.2" fill="#fff" stroke="#f2b630" stroke-width="1.2"/>
<circle cx="1402.9" cy="428.4" r="3.2" fill="#fff" stroke="#f2b630" stroke-width="1.2"/>
<circle cx="1559.0" cy="415.9" r="3.2" fill="#fff" stroke="#f2b630" stroke-width="1.2"/>
<circle cx="1716.0" cy="403.5" r="3.2" fill="#fff" stroke="#f2b630" stroke-width="1.2"/>
<text x="40.2" y="634.2" font-size="21" text-anchor="start" fill="#fff" stroke="#fff" stroke-width="0.55" font-weight="bold" >任务处置统计</text>
<rect x="761.1" y="618.5" width="20.5" height="11.2" rx="2.6" fill="url(#gYel)"/>
<text x="787.7" y="628.0" font-size="14" text-anchor="start" fill="#fff" stroke="#fff" stroke-width="0.55" font-weight="normal" >代办任务</text>
<rect x="862.2" y="618.5" width="20.5" height="11.2" rx="2.6" fill="#3d7df5"/>
<text x="888.3" y="628.0" font-size="14" text-anchor="start" fill="#fff" stroke="#fff" stroke-width="0.55" font-weight="normal" >已办任务</text>
<path d="M105.7 860.0H905.0" stroke="#3f4c6c" stroke-width="1.4"/>
<text x="97.8" y="864.8" font-size="15" text-anchor="end" fill="#eef1f8" stroke="#eef1f8" stroke-width="0.55" font-weight="normal" >0</text>
<path d="M105.7 831.2H905.0" stroke="rgba(255,255,255,0.075)" stroke-width="1.2"/>
<text x="97.8" y="836.0" font-size="15" text-anchor="end" fill="#eef1f8" stroke="#eef1f8" stroke-width="0.55" font-weight="normal" >10</text>
<path d="M105.7 802.4H905.0" stroke="rgba(255,255,255,0.075)" stroke-width="1.2"/>
<text x="97.8" y="807.2" font-size="15" text-anchor="end" fill="#eef1f8" stroke="#eef1f8" stroke-width="0.55" font-weight="normal" >20</text>
<path d="M105.7 773.6H905.0" stroke="rgba(255,255,255,0.075)" stroke-width="1.2"/>
<text x="97.8" y="778.4" font-size="15" text-anchor="end" fill="#eef1f8" stroke="#eef1f8" stroke-width="0.55" font-weight="normal" >30</text>
<path d="M105.7 744.8H905.0" stroke="rgba(255,255,255,0.075)" stroke-width="1.2"/>
<text x="97.8" y="749.5" font-size="15" text-anchor="end" fill="#eef1f8" stroke="#eef1f8" stroke-width="0.55" font-weight="normal" >40</text>
<path d="M105.7 715.9H905.0" stroke="rgba(255,255,255,0.075)" stroke-width="1.2"/>
<text x="97.8" y="720.7" font-size="15" text-anchor="end" fill="#eef1f8" stroke="#eef1f8" stroke-width="0.55" font-weight="normal" >50</text>
<path d="M105.7 687.1H905.0" stroke="rgba(255,255,255,0.075)" stroke-width="1.2"/>
<text x="97.8" y="691.9" font-size="15" text-anchor="end" fill="#eef1f8" stroke="#eef1f8" stroke-width="0.55" font-weight="normal" >60</text>
<path d="M105.7 658.3H905.0" stroke="rgba(255,255,255,0.075)" stroke-width="1.2"/>
<text x="97.8" y="663.1" font-size="15" text-anchor="end" fill="#eef1f8" stroke="#eef1f8" stroke-width="0.55" font-weight="normal" >70</text>
<rect x="156.5" y="808.1" width="12.6" height="28.8" fill="#3d7df5"/>
<rect x="156.5" y="837.0" width="12.6" height="23.0" fill="url(#gYel)"/>
<text x="162.8" y="879.5" font-size="14" text-anchor="middle" fill="#eef1f8" stroke="#eef1f8" stroke-width="0.55" font-weight="normal" >3月</text>
<rect x="270.7" y="773.6" width="12.6" height="43.2" fill="#3d7df5"/>
<rect x="270.7" y="816.8" width="12.6" height="43.2" fill="url(#gYel)"/>
<text x="277.0" y="879.5" font-size="14" text-anchor="middle" fill="#eef1f8" stroke="#eef1f8" stroke-width="0.55" font-weight="normal" >4月</text>
<rect x="384.9" y="730.3" width="12.6" height="86.4" fill="#3d7df5"/>
<rect x="384.9" y="816.8" width="12.6" height="43.2" fill="url(#gYel)"/>
<text x="391.2" y="879.5" font-size="14" text-anchor="middle" fill="#eef1f8" stroke="#eef1f8" stroke-width="0.55" font-weight="normal" >5月</text>
<rect x="499.0" y="750.5" width="12.6" height="72.0" fill="#3d7df5"/>
<rect x="499.0" y="822.5" width="12.6" height="37.5" fill="url(#gYel)"/>
<text x="505.3" y="879.5" font-size="14" text-anchor="middle" fill="#eef1f8" stroke="#eef1f8" stroke-width="0.55" font-weight="normal" >6月</text>
<rect x="613.2" y="730.3" width="12.6" height="100.9" fill="#3d7df5"/>
<rect x="613.2" y="831.2" width="12.6" height="28.8" fill="url(#gYel)"/>
<text x="619.5" y="879.5" font-size="14" text-anchor="middle" fill="#eef1f8" stroke="#eef1f8" stroke-width="0.55" font-weight="normal" >7月</text>
<rect x="727.4" y="667.0" width="12.6" height="115.2" fill="#3d7df5"/>
<rect x="727.4" y="782.2" width="12.6" height="77.8" fill="url(#gYel)"/>
<text x="733.7" y="879.5" font-size="14" text-anchor="middle" fill="#eef1f8" stroke="#eef1f8" stroke-width="0.55" font-weight="normal" >8月</text>
<rect x="841.6" y="707.3" width="12.6" height="121.0" fill="#3d7df5"/>
<rect x="841.6" y="828.3" width="12.6" height="31.7" fill="url(#gYel)"/>
<text x="847.9" y="879.5" font-size="14" text-anchor="middle" fill="#eef1f8" stroke="#eef1f8" stroke-width="0.55" font-weight="normal" >9月</text>
<text x="992.3" y="634.5" font-size="21" text-anchor="start" fill="#fff" stroke="#fff" stroke-width="0.55" font-weight="bold" >未处理隐患统计</text>
<rect x="1570.8" y="618.5" width="20.5" height="11.2" rx="2.6" fill="url(#gPur)"/>
<text x="1597.4" y="628.0" font-size="14" text-anchor="start" fill="#fff" stroke="#fff" stroke-width="0.55" font-weight="normal" >巡检隐患数</text>
<rect x="1685.5" y="618.5" width="20.5" height="11.2" rx="2.6" fill="url(#gCy)"/>
<text x="1712.6" y="628.0" font-size="14" text-anchor="start" fill="#fff" stroke="#fff" stroke-width="0.55" font-weight="normal" >工业用户数</text>
<rect x="1800.7" y="618.5" width="20.5" height="11.2" rx="2.6" fill="url(#gYel)"/>
<text x="1827.8" y="628.0" font-size="14" text-anchor="start" fill="#fff" stroke="#fff" stroke-width="0.55" font-weight="normal" >商业用户数</text>
<path d="M1059.8 860.5H1856.4" stroke="#3f4c6c" stroke-width="1.4"/>
<text x="1050.1" y="865.3" font-size="15" text-anchor="end" fill="#eef1f8" stroke="#eef1f8" stroke-width="0.55" font-weight="normal" >0</text>
<path d="M1059.8 831.7H1856.4" stroke="rgba(255,255,255,0.075)" stroke-width="1.2"/>
<text x="1050.1" y="836.5" font-size="15" text-anchor="end" fill="#eef1f8" stroke="#eef1f8" stroke-width="0.55" font-weight="normal" >10</text>
<path d="M1059.8 802.9H1856.4" stroke="rgba(255,255,255,0.075)" stroke-width="1.2"/>
<text x="1050.1" y="807.7" font-size="15" text-anchor="end" fill="#eef1f8" stroke="#eef1f8" stroke-width="0.55" font-weight="normal" >20</text>
<path d="M1059.8 774.1H1856.4" stroke="rgba(255,255,255,0.075)" stroke-width="1.2"/>
<text x="1050.1" y="778.9" font-size="15" text-anchor="end" fill="#eef1f8" stroke="#eef1f8" stroke-width="0.55" font-weight="normal" >30</text>
<path d="M1059.8 745.3H1856.4" stroke="rgba(255,255,255,0.075)" stroke-width="1.2"/>
<text x="1050.1" y="750.1" font-size="15" text-anchor="end" fill="#eef1f8" stroke="#eef1f8" stroke-width="0.55" font-weight="normal" >40</text>
<path d="M1059.8 716.5H1856.4" stroke="rgba(255,255,255,0.075)" stroke-width="1.2"/>
<text x="1050.1" y="721.3" font-size="15" text-anchor="end" fill="#eef1f8" stroke="#eef1f8" stroke-width="0.55" font-weight="normal" >50</text>
<path d="M1059.8 687.7H1856.4" stroke="rgba(255,255,255,0.075)" stroke-width="1.2"/>
<text x="1050.1" y="692.5" font-size="15" text-anchor="end" fill="#eef1f8" stroke="#eef1f8" stroke-width="0.55" font-weight="normal" >60</text>
<path d="M1059.8 658.9H1856.4" stroke="rgba(255,255,255,0.075)" stroke-width="1.2"/>
<text x="1050.1" y="663.7" font-size="15" text-anchor="end" fill="#eef1f8" stroke="#eef1f8" stroke-width="0.55" font-weight="normal" >70</text>
<rect x="1096.4" y="831.7" width="10.6" height="28.8" rx="5.3" ry="5" fill="url(#gPur)"/>
<rect x="1111.4" y="837.5" width="10.6" height="23.0" rx="5.3" ry="5" fill="url(#gCy)"/>
<rect x="1126.4" y="837.5" width="10.6" height="23.0" rx="5.3" ry="5" fill="url(#gYel)"/>
<text x="1116.7" y="879.1" font-size="14" text-anchor="middle" fill="#eef1f8" stroke="#eef1f8" stroke-width="0.55" font-weight="normal" >3月</text>
<rect x="1210.2" y="817.3" width="10.6" height="43.2" rx="5.3" ry="5" fill="url(#gPur)"/>
<rect x="1225.2" y="846.1" width="10.6" height="14.4" rx="5.3" ry="5" fill="url(#gCy)"/>
<rect x="1240.2" y="846.1" width="10.6" height="14.4" rx="5.3" ry="5" fill="url(#gYel)"/>
<text x="1230.5" y="879.1" font-size="14" text-anchor="middle" fill="#eef1f8" stroke="#eef1f8" stroke-width="0.55" font-weight="normal" >4月</text>
<rect x="1324.0" y="774.1" width="10.6" height="86.4" rx="5.3" ry="5" fill="url(#gPur)"/>
<rect x="1339.0" y="846.1" width="10.6" height="14.4" rx="5.3" ry="5" fill="url(#gCy)"/>
<rect x="1354.0" y="817.3" width="10.6" height="43.2" rx="5.3" ry="5" fill="url(#gYel)"/>
<text x="1344.3" y="879.1" font-size="14" text-anchor="middle" fill="#eef1f8" stroke="#eef1f8" stroke-width="0.55" font-weight="normal" >5月</text>
<rect x="1437.8" y="730.9" width="10.6" height="129.6" rx="5.3" ry="5" fill="url(#gPur)"/>
<rect x="1452.8" y="707.9" width="10.6" height="152.6" rx="5.3" ry="5" fill="url(#gCy)"/>
<rect x="1467.8" y="823.1" width="10.6" height="37.4" rx="5.3" ry="5" fill="url(#gYel)"/>
<text x="1458.1" y="879.1" font-size="14" text-anchor="middle" fill="#eef1f8" stroke="#eef1f8" stroke-width="0.55" font-weight="normal" >6月</text>
<rect x="1551.6" y="759.7" width="10.6" height="100.8" rx="5.3" ry="5" fill="url(#gPur)"/>
<rect x="1566.6" y="831.7" width="10.6" height="28.8" rx="5.3" ry="5" fill="url(#gCy)"/>
<rect x="1581.6" y="831.7" width="10.6" height="28.8" rx="5.3" ry="5" fill="url(#gYel)"/>
<text x="1571.9" y="879.1" font-size="14" text-anchor="middle" fill="#eef1f8" stroke="#eef1f8" stroke-width="0.55" font-weight="normal" >7月</text>
<rect x="1665.4" y="745.3" width="10.6" height="115.2" rx="5.3" ry="5" fill="url(#gPur)"/>
<rect x="1680.4" y="811.5" width="10.6" height="49.0" rx="5.3" ry="5" fill="url(#gCy)"/>
<rect x="1695.4" y="840.3" width="10.6" height="20.2" rx="5.3" ry="5" fill="url(#gYel)"/>
<text x="1685.7" y="879.1" font-size="14" text-anchor="middle" fill="#eef1f8" stroke="#eef1f8" stroke-width="0.55" font-weight="normal" >8月</text>
<rect x="1779.2" y="681.9" width="10.6" height="178.6" rx="5.3" ry="5" fill="url(#gPur)"/>
<rect x="1794.2" y="828.8" width="10.6" height="31.7" rx="5.3" ry="5" fill="url(#gCy)"/>
<rect x="1809.2" y="828.8" width="10.6" height="31.7" rx="5.3" ry="5" fill="url(#gYel)"/>
<text x="1799.5" y="879.1" font-size="14" text-anchor="middle" fill="#eef1f8" stroke="#eef1f8" stroke-width="0.55" font-weight="normal" >9月</text>
<rect x="1157.9" y="711.4" width="136.4" height="106.1" rx="4" fill="rgba(50,50,52,0.86)"/>
<text x="1162.2" y="735.6" font-size="16" text-anchor="start" fill="#ececec" stroke="#ececec" stroke-width="0.4" font-weight="normal" >3月</text>
<circle cx="1168.6" cy="753.4" r="6" fill="#3558cc"/>
<text x="1179.1" y="759.0" font-size="16" text-anchor="start" fill="#ececec" stroke="#ececec" stroke-width="0.4" font-weight="normal" >巡检隐患数: 10</text>
<circle cx="1168.6" cy="777.4" r="6" fill="#3558cc"/>
<text x="1179.1" y="783.0" font-size="16" text-anchor="start" fill="#ececec" stroke="#ececec" stroke-width="0.4" font-weight="normal" >工业用户数: 8</text>
<circle cx="1168.6" cy="801.4" r="6" fill="#e8b424"/>
<text x="1179.1" y="807.0" font-size="16" text-anchor="start" fill="#ececec" stroke="#ececec" stroke-width="0.4" font-weight="normal" >商业用户数: 8</text>
</svg>
</div></div>
</body></html>
